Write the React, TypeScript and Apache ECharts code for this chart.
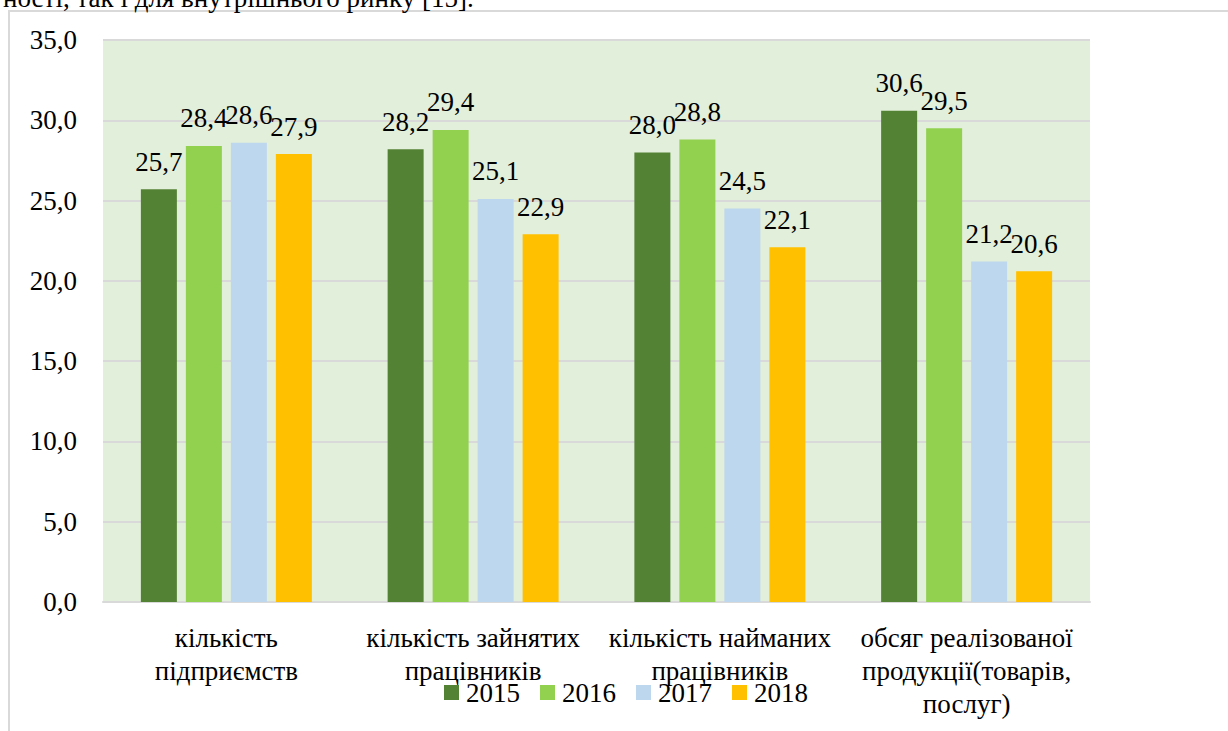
import React, { useEffect, useRef } from "react";
import * as echarts from "echarts";

const categories = [
  "кількість\nпідприємств",
  "кількість зайнятих\nпрацівників",
  "кількість найманих\nпрацівників",
  "обсяг реалізованої\nпродукції(товарів,\nпослуг)",
];
const years = ["2015", "2016", "2017", "2018"];
const values2015 = [25.7, 28.2, 28.0, 30.6];
const values2016 = [28.4, 29.4, 28.8, 29.5];
const values2017 = [28.6, 25.1, 24.5, 21.2];
const values2018 = [27.9, 22.9, 22.1, 20.6];
const seriesValues = [values2015, values2016, values2017, values2018];
const colors = ["#548235", "#92D050", "#BDD7EE", "#FFC000"];
const yTicks = { min: 0, max: 35, interval: 5 };
const topText = "ності, так і для внутрішнього ринку [15].";

const FONT = "Liberation Serif";
const fmt = (v: number) => v.toFixed(1).replace(".", ",");

export default function App() {
  const ref = useRef<HTMLDivElement>(null);
  useEffect(() => {
    if (!ref.current) return;
    const chart = echarts.init(ref.current, undefined, { renderer: "svg" });
    chart.setOption({
      animation: false,
      backgroundColor: "#ffffff",
      textStyle: { fontFamily: FONT },
      graphic: [
        {
          type: "rect",
          shape: { x: 9, y: 11, width: 1400, height: 800 },
          style: { fill: "none", stroke: "#D9D9D9", lineWidth: 2 },
          silent: true,
          z: -1,
        },
        {
          type: "text",
          x: 3,
          y: 11,
          style: {
            text: topText,
            fontFamily: FONT,
            fontSize: 27,
            fill: "#000",
            verticalAlign: "bottom",
          },
        },
      ],
      grid: {
        left: 103,
        right: 138,
        top: 40,
        bottom: 129,
        show: true,
        backgroundColor: "#E2EFDA",
        borderWidth: 0,
      },
      legend: {
        data: years,
        left: 439,
        top: 674,
        itemWidth: 15,
        itemHeight: 15,
        itemGap: 20,
        icon: "rect",
        textStyle: {
          fontFamily: FONT,
          fontSize: 27,
          color: "#000",
          padding: [0, 0, 0, 2],
        },
      },
      xAxis: {
        type: "category",
        data: categories,
        axisLine: { show: true, lineStyle: { color: "#D9D9D9", width: 2 } },
        axisTick: { show: false },
        axisLabel: {
          fontFamily: FONT,
          fontSize: 27,
          color: "#000",
          lineHeight: 33,
          margin: 19,
          interval: 0,
        },
      },
      yAxis: {
        type: "value",
        min: yTicks.min,
        max: yTicks.max,
        interval: yTicks.interval,
        axisLine: { show: false },
        axisTick: { show: false },
        splitLine: { lineStyle: { color: "#D9D9D9", width: 2 } },
        axisLabel: {
          fontFamily: FONT,
          fontSize: 27,
          color: "#000",
          margin: 26,
          formatter: (v: number) => fmt(v),
        },
      },
      series: years.map((y, i) => ({
        name: y,
        type: "bar",
        data: seriesValues[i],
        barWidth: 36,
        barGap: "25%",
        itemStyle: { color: colors[i] },
        label: {
          show: true,
          position: "top",
          distance: 14,
          fontFamily: FONT,
          fontSize: 27,
          color: "#000",
          formatter: (p: any) => fmt(p.value),
        },
      })),
    });
    return () => chart.dispose();
  }, []);
  return (
    <div
      ref={ref}
      style={{ position: "fixed", left: 0, top: 0, width: 1228, height: 731 }}
    />
  );
}
